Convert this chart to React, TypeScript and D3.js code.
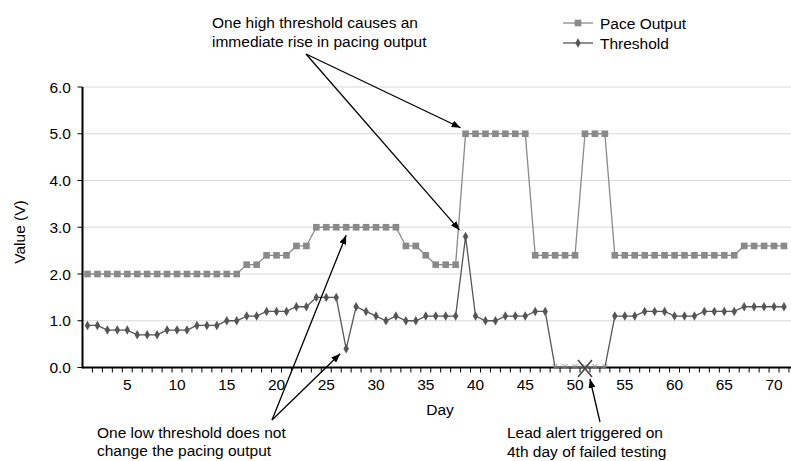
import React from 'react';
import * as d3 from 'd3';

// category axis: test days
const days = d3.range(1, 73);
const xTickLabels = [5, 10, 15, 20, 25, 30, 35, 40, 45, 50, 55, 60, 65, 70];
const yTicks = [0, 1, 2, 3, 4, 5, 6];

// values (V), day 1 .. 71
const paceOutput = [
  2.0, 2.0, 2.0, 2.0, 2.0, 2.0, 2.0, 2.0, 2.0, 2.0, 2.0, 2.0, 2.0, 2.0, 2.0, 2.0,
  2.2, 2.2, 2.4, 2.4, 2.4, 2.6, 2.6,
  3.0, 3.0, 3.0, 3.0, 3.0, 3.0, 3.0, 3.0, 3.0,
  2.6, 2.6, 2.4, 2.2, 2.2, 2.2,
  5.0, 5.0, 5.0, 5.0, 5.0, 5.0, 5.0,
  2.4, 2.4, 2.4, 2.4, 2.4,
  5.0, 5.0, 5.0,
  2.4, 2.4, 2.4, 2.4, 2.4, 2.4, 2.4, 2.4, 2.4, 2.4, 2.4, 2.4, 2.4,
  2.6, 2.6, 2.6, 2.6, 2.6,
];
const threshold = [
  0.9, 0.9, 0.8, 0.8, 0.8, 0.7, 0.7, 0.7, 0.8, 0.8, 0.8, 0.9, 0.9, 0.9, 1.0, 1.0,
  1.1, 1.1, 1.2, 1.2, 1.2, 1.3, 1.3, 1.5, 1.5, 1.5, 0.4, 1.3, 1.2, 1.1, 1.0, 1.1,
  1.0, 1.0, 1.1, 1.1, 1.1, 1.1, 2.8, 1.1, 1.0, 1.0, 1.1, 1.1, 1.1, 1.2, 1.2,
  0.0, 0.0, 0.0, 0.0, 0.0, 0.0,
  1.1, 1.1, 1.1, 1.2, 1.2, 1.2, 1.1, 1.1, 1.1, 1.2, 1.2, 1.2, 1.2,
  1.3, 1.3, 1.3, 1.3, 1.3,
];
const failedDays = [48, 49, 50, 51, 52, 53];
const alertDay = 51;

const W = 791;
const H = 461;
const FONT = "'Liberation Sans', Arial, sans-serif";
const PACE = '#8a8a8a';
const THR = '#565656';

const x = d3.scaleBand<number>().domain(days).range([82.5, 82.5 + days.length * 9.95]);
const cx = (d: number) => (x(d) as number) + x.bandwidth() / 2;
const y = d3.scaleLinear().domain([0, 6]).range([367.5, 87]);

const line = d3.line<number>().x((_, i) => cx(i + 1)).y((v) => y(v));
const square = d3.symbol(d3.symbolSquare, 44)()!;
const diamond = d3.symbol(d3.symbolDiamond, 26)()!;

const Arrow = ({ x1, y1, x2, y2 }: { x1: number; y1: number; x2: number; y2: number }) => (
  <line x1={x1} y1={y1} x2={x2} y2={y2} stroke="#000" strokeWidth={1.3} markerEnd="url(#arrow)" />
);

export default function App() {
  const xEnd = x.range()[1];
  return (
    <svg
      width={W}
      height={H}
      style={{ position: 'absolute', left: 0, top: 0, background: '#fff' }}
      fontFamily={FONT}
    >
      <defs>
        <marker id="arrow" markerUnits="userSpaceOnUse" markerWidth={9} markerHeight={7}
          refX={9} refY={3.5} orient="auto">
          <path d="M0,0 L9,3.5 L0,7 z" fill="#000" />
        </marker>
      </defs>

      {/* gridlines */}
      {yTicks.filter((t) => t > 0).map((t) => (
        <line key={t} x1={82.5} x2={W} y1={y(t)} y2={y(t)} stroke="#d9d9d9" strokeWidth={1.2} />
      ))}

      {/* y axis */}
      <line x1={82.5} x2={82.5} y1={y(6)} y2={y(0) + 1} stroke="#000" strokeWidth={2} />
      {yTicks.map((t) => (
        <g key={t}>
          <line x1={77.5} x2={82.5} y1={y(t)} y2={y(t)} stroke="#000" strokeWidth={1} />
          <text x={71} y={y(t) + 5.5} textAnchor="end" fontSize={15.5} fill="#000">
            {t.toFixed(1)}
          </text>
        </g>
      ))}
      <text transform={`translate(25,${232}) rotate(-90)`} textAnchor="middle" fontSize={15.5}>
        Value (V)
      </text>

      {/* x axis */}
      <line x1={82.5} x2={xEnd} y1={y(0)} y2={y(0)} stroke="#000" strokeWidth={2} />
      {days.map((d) => (
        <line key={d} x1={(x(d) as number) + x.bandwidth()} x2={(x(d) as number) + x.bandwidth()}
          y1={y(0)} y2={y(0) + 5} stroke="#000" strokeWidth={1} />
      ))}
      {xTickLabels.map((d) => (
        <text key={d} x={cx(d)} y={390} textAnchor="middle" fontSize={15.5}>{d}</text>
      ))}
      <text x={440} y={415} textAnchor="middle" fontSize={15.5}>Day</text>

      {/* series */}
      <path d={line(paceOutput)!} fill="none" stroke={PACE} strokeWidth={1.3} />
      <path d={line(threshold)!} fill="none" stroke={THR} strokeWidth={1.3} />
      {paceOutput.map((v, i) => (
        <path key={i} d={square} transform={`translate(${cx(i + 1)},${y(v)})`} fill={PACE} />
      ))}
      {threshold.map((v, i) =>
        failedDays.includes(i + 1) ? (
          <path key={i} d="M-2.5,-2.5L2.5,2.5M-2.5,2.5L2.5,-2.5"
            transform={`translate(${cx(i + 1)},${y(v) - 1})`} stroke="#8a8a8a" strokeWidth={1} />
        ) : (
          <path key={i} d={diamond} transform={`translate(${cx(i + 1)},${y(v)})`} fill={THR} />
        )
      )}
      {/* lead alert */}
      <path d="M-7,-8.5L7,8.5M-7,8.5L7,-8.5" transform={`translate(${cx(alertDay)},${y(0) + 1})`}
        stroke="#444" strokeWidth={1.6} />

      {/* legend */}
      <g transform="translate(563,23)">
        <line x1={0} x2={30} stroke={PACE} strokeWidth={1.3} />
        <path d={square} transform="translate(15,0)" fill={PACE} />
        <text x={37} y={5.5} fontSize={15.5}>Pace Output</text>
      </g>
      <g transform="translate(563,43)">
        <line x1={0} x2={30} stroke={THR} strokeWidth={1.3} />
        <path d={diamond} transform="translate(15,0)" fill={THR} />
        <text x={37} y={5.5} fontSize={15.5}>Threshold</text>
      </g>

      {/* annotations */}
      <text x={212} y={28} fontSize={15.5}>One high threshold causes an</text>
      <text x={212} y={46.5} fontSize={15.5}>immediate rise in pacing output</text>
      <Arrow x1={306} y1={54} x2={cx(39) - 5} y2={y(5) - 6} />
      <Arrow x1={306} y1={54} x2={cx(39) - 6} y2={y(threshold[38]) - 6.5} />

      <text x={97} y={438} fontSize={15.5}>One low threshold does not</text>
      <text x={97} y={456} fontSize={15.5}>change the pacing output</text>
      <Arrow x1={272} y1={420} x2={cx(27)} y2={y(paceOutput[26]) + 8} />
      <Arrow x1={272} y1={420} x2={cx(27) - 6} y2={y(threshold[26]) + 5} />

      <text x={507} y={438} fontSize={15.5}>Lead alert triggered on</text>
      <text x={507} y={456.5} fontSize={15.5}>4th day of failed testing</text>
      <Arrow x1={600} y1={422} x2={cx(alertDay) + 5} y2={y(0) + 11.5} />
    </svg>
  );
}
